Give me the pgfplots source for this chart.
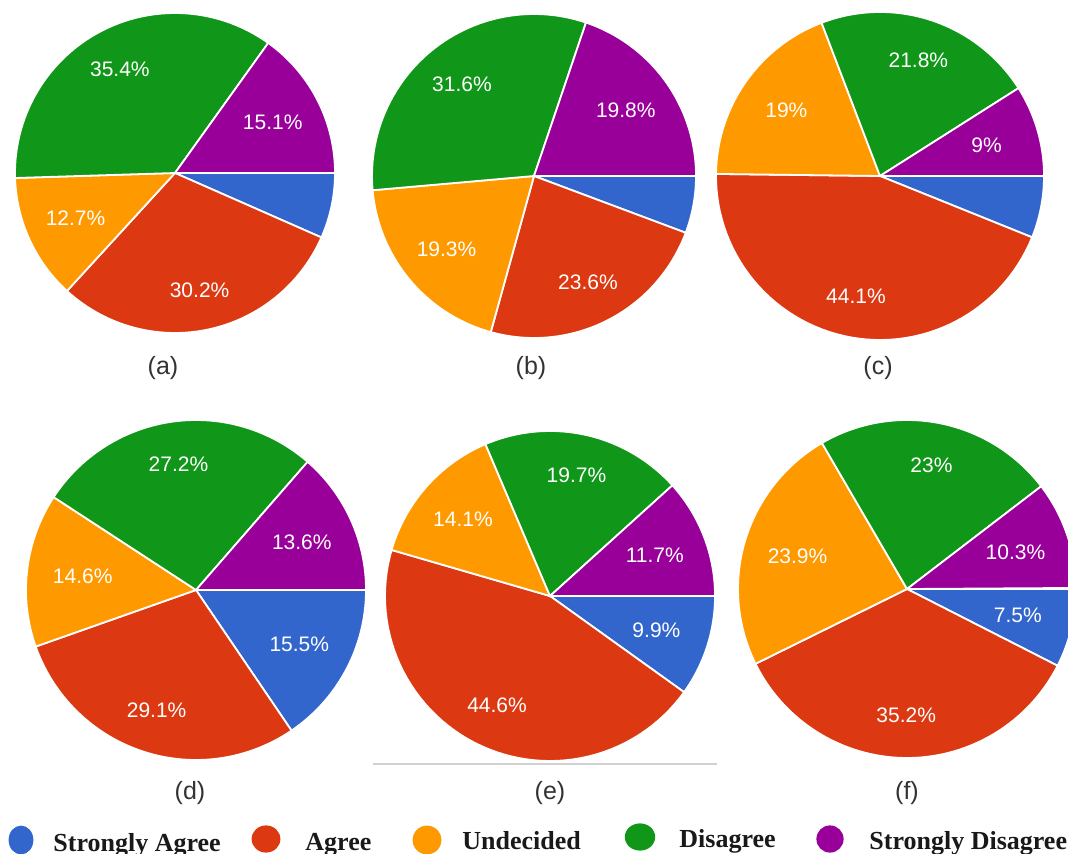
\documentclass[border=0pt]{standalone}
\usepackage{pgfplots}
\pgfplotsset{compat=1.18}
\usepackage{fontspec}
\setmainfont{Liberation Sans}
\newfontfamily\legfont{Liberation Serif}

\definecolor{sa}{HTML}{3366CC}
\definecolor{ag}{HTML}{DC3912}
\definecolor{un}{HTML}{FF9900}
\definecolor{di}{HTML}{109618}
\definecolor{sd}{HTML}{990099}
\definecolor{captxt}{HTML}{333333}

\tikzset{lbl/.style={text=white, font=\fontsize{10.5}{12}\selectfont, inner sep=0pt}}

% one pie: #1 centre, #2 diameter, #3 value/colour list (clockwise from 3 o'clock)
\newcommand\piechart[3]{%
\begin{axis}[at={#1}, anchor=center, width=#2, height=#2, scale only axis,
  hide axis, clip=false, xmin=-1, xmax=1, ymin=-1, ymax=1]
  \xdef\cum{0}
  \foreach \v/\col in {#3} {
    \pgfmathsetmacro\a{-3.6*\cum}
    \pgfmathsetmacro\b{-3.6*(\cum+\v)}
    \pgfmathsetmacro\m{(\a+\b)/2}
    \pgfmathsetmacro\rf{0.67+0.08*sin(\m)^2}
    \pgfmathsetmacro\lx{\rf*cos(\m)}
    \pgfmathsetmacro\ly{\rf*sin(\m)}
    \edef\tmp{\noexpand\addplot[fill=\col, draw=white, line width=0.9pt,
      domain=\b:\a, samples=60] ({cos(x)},{sin(x)}) -- (axis cs:0,0) -- cycle;}
    \tmp
    \pgfmathparse{\v>=7 ? 1 : 0}
    \ifdim\pgfmathresult pt>0.5pt
      \edef\tmp{\noexpand\node[lbl] at (axis cs:\lx,\ly) {\v\noexpand\%};}
      \tmp
    \fi
    \pgfmathsetmacro\newcum{\cum+\v}
    \xdef\cum{\newcum}
  }
\end{axis}}

\begin{document}
\begin{tikzpicture}
\useasboundingbox (0,0) rectangle (534pt,-427pt);
\clip (0,0) rectangle (534pt,-427pt);

% (a)
\piechart{(87.5pt,-86.5pt)}{160pt}{6.6/sa,30.2/ag,12.7/un,35.4/di,15.1/sd}
% (b)
\piechart{(267pt,-88pt)}{162pt}{5.7/sa,23.6/ag,19.3/un,31.6/di,19.8/sd}
% (c)
\piechart{(440pt,-88pt)}{164pt}{6.1/sa,44.1/ag,19/un,21.8/di,9/sd}
% (d)
\piechart{(98pt,-295pt)}{170pt}{15.5/sa,29.1/ag,14.6/un,27.2/di,13.6/sd}
% (e)
\piechart{(275pt,-298pt)}{165pt}{9.9/sa,44.6/ag,14.1/un,19.7/di,11.7/sd}
% (f)
\piechart{(453.5pt,-294.5pt)}{169pt}{7.5/sa,35.2/ag,23.9/un,23/di,10.3/sd}

\begin{scope}[x=0.5pt, y=-0.5pt]
  \draw[black!18, line width=0.6pt] (373,764) -- (717,764);
  \foreach \t/\px/\py in {(a)/163/368,(b)/531/368,(c)/878/368,(d)/190/793,(e)/550/793,(f)/907/793}
    \node[text=captxt, font=\fontsize{12.5}{14}\selectfont] at (\px,\py) {\t};

  \fill[sa] (21,840) ellipse [x radius=6.2pt, y radius=7.2pt];
  \fill[ag] (266,839) ellipse [x radius=7.2pt, y radius=6.8pt];
  \fill[un] (427,840) ellipse [x radius=7.2pt, y radius=7.2pt];
  \fill[di] (640,837) ellipse [x radius=7.6pt, y radius=6.8pt];
  \fill[sd] (830,839) ellipse [x radius=6.8pt, y radius=6.8pt];
  \begin{scope}[every node/.style={anchor=base west, inner sep=0pt, text=black!90,
      font=\legfont\bfseries\fontsize{13}{15}\selectfont}]
    \node at (53,851) {Strongly Agree};
    \node at (305,850) {Agree};
    \node at (462,849) {Undecided};
    \node at (679,847) {Disagree};
    \node at (869,849) {Strongly Disagree};
  \end{scope}
\end{scope}
\end{tikzpicture}
\end{document}
